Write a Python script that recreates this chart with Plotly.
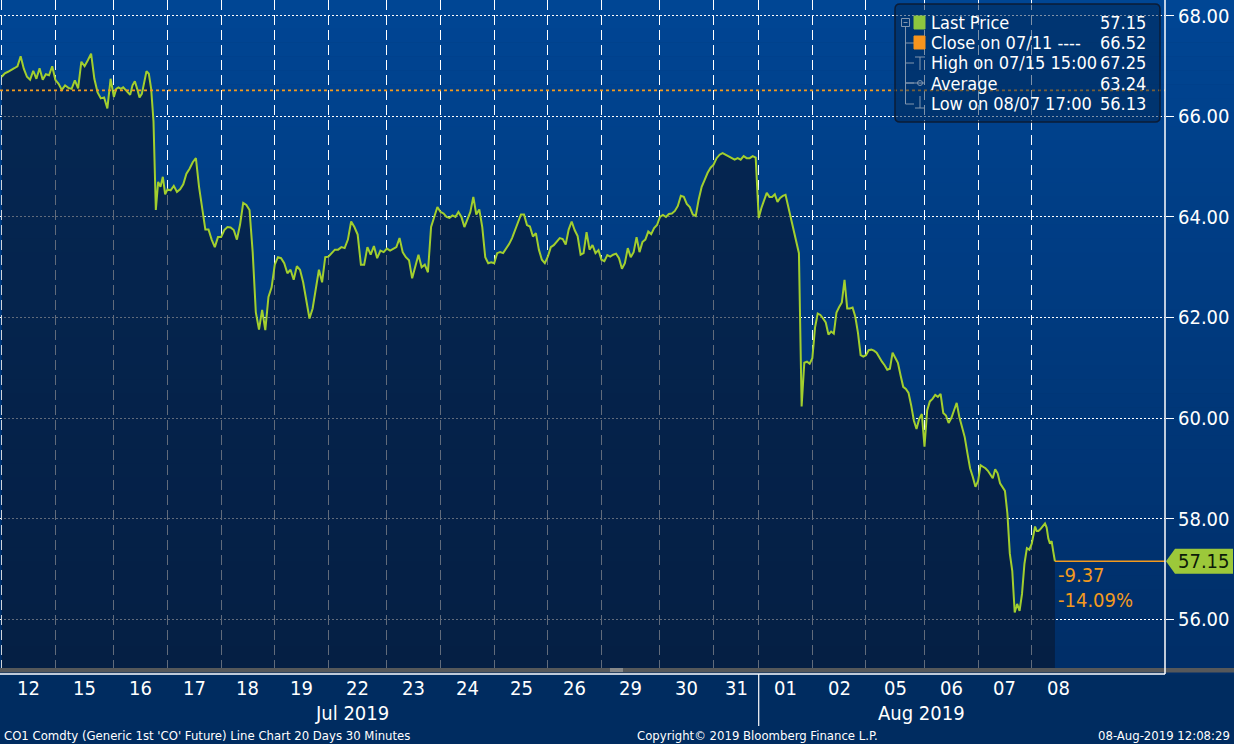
import numpy as np
import plotly.graph_objects as go

FONT = "DejaVu Sans Condensed, DejaVu Sans, sans-serif"

# ---------------- data ----------------
days = ["12", "15", "16", "17", "18", "19", "22", "23", "24", "25", "26",
        "29", "30", "31", "01", "02", "05", "06", "07", "08"]
# number of 30-minute bars in each trading session
session_bars = [44, 48, 44, 44, 44, 44, 48, 44, 44, 44, 44,
                48, 44, 37, 44, 44, 48, 44, 44, 44]
last_day_bars = 19  # bars traded so far on the last day

jul12 = [66.79, 66.86, 66.89, 66.92, 66.96, 67.00, 67.20, 66.95, 66.79, 66.73, 66.91,
         66.75, 66.96, 66.73, 66.84, 66.82, 67.00]
jul15 = [66.73, 66.65, 66.53, 66.62, 66.57, 66.55, 66.72, 66.56, 67.09, 67.00, 67.12,
         67.25, 66.75, 66.48, 66.36, 66.38, 66.16, 66.75]
jul16 = [66.39, 66.55, 66.58, 66.55, 66.58, 66.53, 66.47, 66.43, 66.62, 66.70, 66.55,
         66.38, 66.45, 66.65, 66.90, 66.85, 66.55, 65.90, 64.14, 64.70, 64.60, 64.80, 64.45]
jul17 = [64.55, 64.53, 64.62, 64.50, 64.55, 64.65, 64.86, 64.96, 65.09, 65.17, 64.60,
         64.15, 63.75, 63.75, 63.55, 63.40, 63.60]
jul18 = [63.60, 63.74, 63.80, 63.79, 63.74, 63.55, 63.85, 64.28, 64.24, 64.14, 63.30,
         62.10, 61.76, 62.15, 61.75, 62.41, 62.60]
jul19 = [63.05, 63.20, 63.18, 63.08, 62.88, 62.95, 62.75, 63.02, 62.95, 62.70, 62.32,
         61.98, 62.18, 62.60, 62.95, 62.70, 63.20]
jul22 = [63.21, 63.28, 63.35, 63.35, 63.40, 63.38, 63.55, 63.91, 63.80, 63.65, 63.05,
         63.05, 63.40, 63.25, 63.42, 63.18, 63.33, 63.30]
jul23 = [63.37, 63.33, 63.36, 63.40, 63.58, 63.30, 63.20, 63.14, 62.78, 63.00, 63.25,
         63.00, 63.05, 62.90, 63.80, 64.00, 64.20]
jul24 = [64.10, 64.07, 64.00, 63.98, 64.03, 64.00, 64.10, 64.00, 63.80, 63.95, 64.10,
         64.40, 64.05, 64.15, 63.80, 63.20, 63.08, 63.10]
jul25 = [63.08, 63.28, 63.30, 63.28, 63.37, 63.46, 63.58, 63.75, 63.88, 64.05, 64.05,
         63.84, 63.81, 63.61, 63.68, 63.35, 63.15, 63.08]
jul26 = [63.21, 63.40, 63.44, 63.50, 63.58, 63.56, 63.45, 63.75, 63.91, 63.74, 63.62,
         63.25, 63.28, 63.70, 63.35, 63.44, 63.28, 63.34]
jul29 = [63.15, 63.12, 63.24, 63.21, 63.25, 63.27, 63.18, 62.97, 63.08, 63.38, 63.20,
         63.30, 63.60, 63.30, 63.50, 63.55, 63.71, 63.66, 63.78, 63.84]
jul30 = [64.00, 64.04, 64.00, 64.06, 64.07, 64.12, 64.22, 64.42, 64.40, 64.26, 64.20,
         64.05, 64.02, 64.35, 64.60, 64.74, 64.88, 64.98]
jul31 = [65.04, 65.17, 65.24, 65.27, 65.24, 65.21, 65.17, 65.14, 65.17, 65.14, 65.21,
         65.17, 65.17, 65.21, 65.18]
aug01 = [63.98, 64.18, 64.35, 64.48, 64.40, 64.40, 64.45, 64.30, 64.38, 64.42, 64.44,
         64.20, 63.95, 63.72, 63.51, 63.28, 60.23, 61.10, 61.12, 61.08]
aug02 = [61.19, 61.80, 62.08, 62.05, 61.98, 61.90, 61.66, 61.72, 61.68, 62.10, 62.21,
         62.30, 62.75, 62.18, 62.18, 62.20, 62.02, 61.70, 61.25, 61.22]
aug05 = [61.25, 61.35, 61.36, 61.34, 61.30, 61.20, 61.12, 61.05, 60.96, 60.98, 61.30,
         61.20, 61.10, 60.85, 60.62, 60.58, 60.50, 60.25, 59.95, 59.78, 59.98, 60.08]
aug06 = [59.43, 60.15, 60.33, 60.38, 60.46, 60.42, 60.48, 60.10, 60.05, 59.90, 60.00,
         60.15, 60.30, 60.02, 59.80, 59.62, 59.30, 59.00, 58.83, 58.63]
aug07 = [58.75, 59.06, 59.03, 59.00, 58.95, 58.88, 58.80, 58.98, 58.90, 58.70, 58.62,
         58.55, 58.10, 57.30, 56.96, 56.13, 56.30, 56.16, 56.50, 57.10, 57.41, 57.38]
aug08 = [57.50, 57.68, 57.84, 57.75, 57.75, 57.78, 57.82, 57.88, 57.90, 57.82, 57.60,
         57.50, 57.55, 57.34, 57.15]

day_prices = [jul12, jul15, jul16, jul17, jul18, jul19, jul22, jul23, jul24, jul25, jul26,
              jul29, jul30, jul31, aug01, aug02, aug05, aug06, aug07, aug08]

months = ["Jul 2019", "Aug 2019"]
close_label = "Close on 07/11 ----"
close_value = 66.52
high_label = "High on 07/15 15:00"
high_value = 67.25
avg_label = "Average"
avg_value = 63.24
low_label = "Low on 08/07 17:00"
low_value = 56.13
y_ticks = [56, 58, 60, 62, 64, 66, 68]

footer_left = "CO1 Comdty (Generic 1st 'CO' Future) Line Chart 20 Days 30 Minutes"
footer_mid = "Copyright\u00a9 2019 Bloomberg Finance L.P."
footer_right = "08-Aug-2019 12:08:29"

# ---------------- geometry ----------------
W, H = 1234, 744
MR, MB = 69, 76
PW = W - MR        # plot width in px
PH = H - MB        # plot height in px


def px(v):
    return v / PW


def py(v):
    return 1 - v / PH


starts = np.concatenate([[0], np.cumsum(session_bars)[:-1]]).astype(float)
xs, ys = [], []
for i, vals in enumerate(day_prices):
    n = len(vals)
    step = last_day_bars / (n - 1) if i == len(days) - 1 else session_bars[i] / n
    for j, v in enumerate(vals):
        xs.append(starts[i] + j * step)
        ys.append(v)

last_x, last_y = xs[-1], ys[-1]
chg = last_y - close_value
chg_pct = chg / close_value * 100

x_range = [-1.4, 954.3]
y_range = [55.025, 68.318]

GREEN = "#a2cf2e"
ORANGE = "#f39a1e"
GREY = "#8296ae"

fig = go.Figure()
fig.add_trace(go.Scatter(
    x=xs, y=ys, mode="lines",
    line=dict(color=GREEN, width=2),
    fill="tozeroy", fillcolor="rgba(8,24,48,0.64)",
    hoverinfo="skip", showlegend=False))

shapes = []
# background gradient (plot + right axis area)
NB = 48
top_c = np.array([0, 70, 148])
bot_c = np.array([0, 46, 104])
for k in range(NB):
    t = k / (NB - 1)
    c = top_c + (bot_c - top_c) * t
    y0 = 674 * k / NB
    y1 = 674 * (k + 1) / NB + 0.6
    shapes.append(dict(type="rect", xref="paper", yref="paper",
                       x0=0, x1=px(W), y0=py(y1), y1=py(y0),
                       fillcolor=f"rgb({int(c[0])},{int(c[1])},{int(c[2])})",
                       line=dict(width=0), layer="below"))

# close reference line
shapes.append(dict(type="line", xref="paper", yref="y", x0=0, x1=1,
                   y0=close_value, y1=close_value,
                   line=dict(color=ORANGE, width=1.6, dash="dot"), layer="above"))
# last price line
shapes.append(dict(type="line", xref="x", yref="y", x0=last_x, x1=x_range[1],
                   y0=last_y, y1=last_y,
                   line=dict(color=ORANGE, width=1.5), layer="above"))
# last price tag
hh = 12.5 / (PH / (y_range[1] - y_range[0]))
tag_path = (f"M {px(1166)} {last_y} L {px(1175)} {last_y + hh} L {px(1233)} {last_y + hh} "
            f"L {px(1233)} {last_y - hh} L {px(1175)} {last_y - hh} Z")
shapes.append(dict(type="path", xref="paper", yref="y", path=tag_path,
                   fillcolor="#9cc83a", line=dict(width=0), layer="above"))

# bottom scroll strip
shapes.append(dict(type="rect", xref="paper", yref="paper", x0=0, x1=px(W),
                   y0=py(672.5), y1=py(668), fillcolor="#56585a", line=dict(width=0)))
shapes.append(dict(type="line", xref="paper", yref="paper", x0=0, x1=1,
                   y0=py(674), y1=py(674), line=dict(color="white", width=1.5)))
for yy in (669, 671):
    shapes.append(dict(type="line", xref="paper", yref="paper", x0=px(610), x1=px(623),
                       y0=py(yy), y1=py(yy), line=dict(color="#b8b8b8", width=1)))
# right axis line
shapes.append(dict(type="line", xref="paper", yref="paper", x0=1, x1=1,
                   y0=py(674), y1=1, line=dict(color="white", width=1.5)))
# month separator
shapes.append(dict(type="line", xref="x", yref="paper", x0=starts[14], x1=starts[14],
                   y0=py(726), y1=py(674), line=dict(color="white", width=1.2)))

# legend box (rounded)
bx0, bx1, by0, by1, r = 895, 1160, 4, 122, 5
box_path = (f"M {px(bx0 + r)} {py(by0)} L {px(bx1 - r)} {py(by0)} "
            f"Q {px(bx1)} {py(by0)} {px(bx1)} {py(by0 + r)} "
            f"L {px(bx1)} {py(by1 - r)} Q {px(bx1)} {py(by1)} {px(bx1 - r)} {py(by1)} "
            f"L {px(bx0 + r)} {py(by1)} Q {px(bx0)} {py(by1)} {px(bx0)} {py(by1 - r)} "
            f"L {px(bx0)} {py(by0 + r)} Q {px(bx0)} {py(by0)} {px(bx0 + r)} {py(by0)} Z")
shapes.append(dict(type="path", xref="paper", yref="paper", path=box_path,
                   fillcolor="rgba(0,38,82,0.5)", line=dict(color="#0b1c36", width=1.5),
                   layer="above"))


def seg(x0, y0, x1, y1, color=GREY, w=1):
    shapes.append(dict(type="line", xref="paper", yref="paper",
                       x0=px(x0), x1=px(x1), y0=py(y0), y1=py(y1),
                       line=dict(color=color, width=w), layer="above"))


def box(x0, y0, x1, y1, fill, line=None):
    shapes.append(dict(type="rect", xref="paper", yref="paper",
                       x0=px(x0), x1=px(x1), y0=py(y1), y1=py(y0),
                       fillcolor=fill, line=dict(color=line or fill, width=1),
                       layer="above"))


# tree icons
box(901.5, 18.5, 909.5, 26.5, "rgba(0,0,0,0)", GREY)
seg(903.5, 22.5, 907.5, 22.5)
seg(905.5, 26.5, 905.5, 104)
for yy in (43, 63, 83, 104):
    seg(905.5, yy, 914, yy)
box(914, 16, 925, 29, "#8dc63f")
box(914, 36, 925, 49, "#f7941d")
seg(915, 57, 925, 57)
seg(920, 57, 920, 70)
seg(905.5, 83, 925, 83)
shapes.append(dict(type="circle", xref="paper", yref="paper",
                   x0=px(917.5), x1=px(922.5), y0=py(85.5), y1=py(80.5),
                   line=dict(color=GREY, width=1), layer="above"))
seg(920, 96, 920, 108)
seg(915, 108, 925, 108)

annotations = []


def text(x, y, s, size=20, color="white", xanchor="center", xref="paper", yref="paper",
         yshift=0, xshift=0):
    annotations.append(dict(x=x, y=y, xref=xref, yref=yref, text=s, showarrow=False,
                            xanchor=xanchor, yanchor="middle", xshift=xshift, yshift=yshift,
                            font=dict(family=FONT, size=size, color=color)))


# day labels
for i, d in enumerate(days):
    text(starts[i] + session_bars[i] / 2, py(688), d, size=20, xref="x")
# month labels
text(px(352), py(713), months[0], size=20)
text(px(921), py(713), months[1], size=20)
# footer
text(px(2), py(735.5), footer_left, size=13, xanchor="left")
text(px(635), py(735.5), footer_mid, size=13, xanchor="left")
text(px(1232), py(735.5), footer_right, size=13, xanchor="right")

# legend rows
rows = [("Last Price", f"{last_y:.2f}"),
        (close_label, f"{close_value:.2f}"),
        (high_label, f"{high_value:.2f}"),
        (avg_label, f"{avg_value:.2f}"),
        (low_label, f"{low_value:.2f}")]
for k, (lab, val) in enumerate(rows):
    yy = 23 + 20 * k
    text(px(929), py(yy), lab, size=18, xanchor="left")
    text(px(1148), py(yy), val, size=18, xanchor="right")

# last price tag text and change
text(px(1204), last_y, f"{last_y:.2f}", size=20, color="#0c1a08", yref="y")
text(last_x, last_y, f"{chg:.2f}", size=20, color=ORANGE, xanchor="left",
     xref="x", yref="y", yshift=-14, xshift=1)
text(last_x, last_y, f"{chg_pct:.2f}%", size=20, color=ORANGE, xanchor="left",
     xref="x", yref="y", yshift=-39, xshift=1)

fig.update_layout(
    width=W, height=H,
    margin=dict(l=0, r=MR, t=0, b=MB, pad=0),
    paper_bgcolor="rgb(0,44,96)",
    plot_bgcolor="rgba(0,0,0,0)",
    showlegend=False,
    shapes=shapes,
    annotations=annotations,
    xaxis=dict(range=x_range, tickvals=list(starts), showticklabels=False, ticks="",
               showgrid=True, gridcolor="white", gridwidth=1, griddash="10px,5px",
               zeroline=False, showline=False, fixedrange=True),
    yaxis=dict(range=y_range, side="right", tickvals=y_ticks,
               ticktext=[f"{v:.2f}" for v in y_ticks],
               tickfont=dict(family=FONT, size=20, color="white"),
               ticks="outside", ticklen=8, tickcolor="white", tickwidth=1,
               showgrid=True, gridcolor="white", gridwidth=1, griddash="2px,2px",
               zeroline=False, showline=False, fixedrange=True),
)

fig.write_html("out.html", config={"displayModeBar": False},
               post_script="document.body.style.margin='0px';document.body.style.overflow='hidden';")
